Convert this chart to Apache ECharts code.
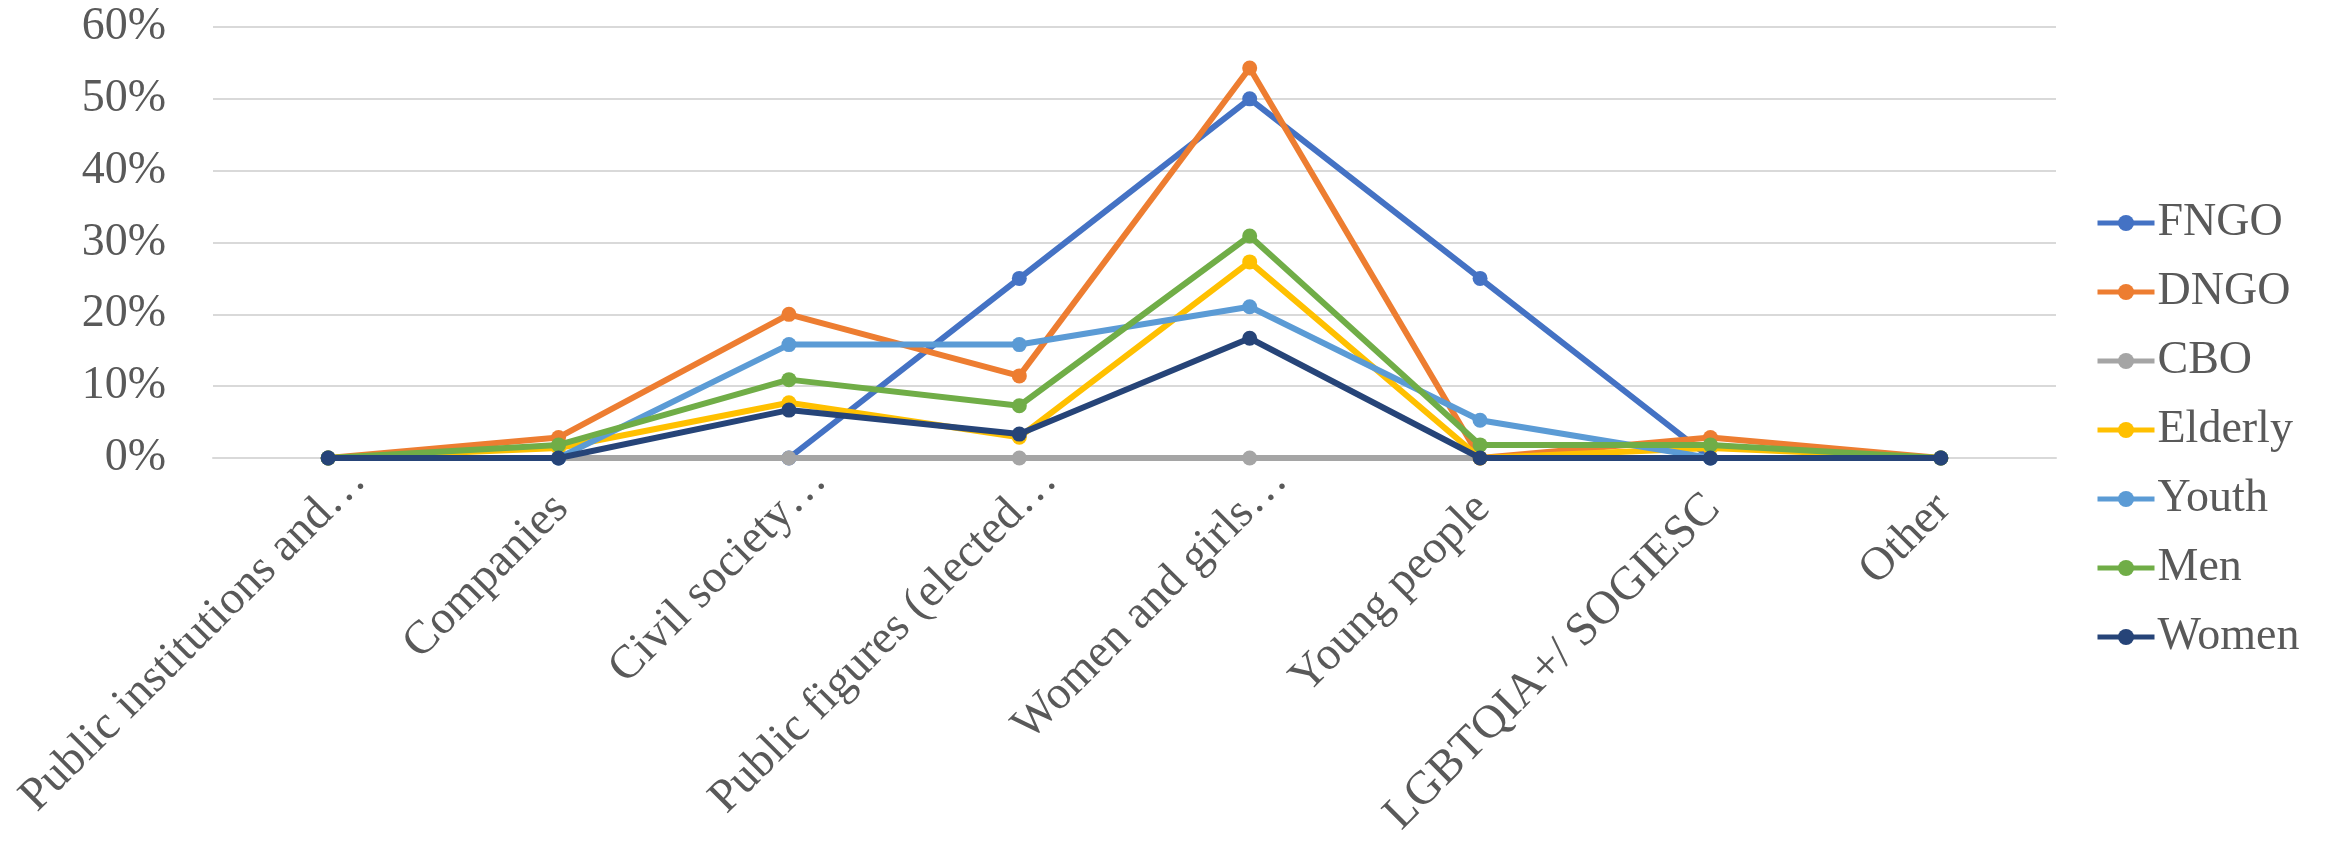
<!DOCTYPE html>
<html>
<head>
<meta charset="utf-8">
<script src="https://cdn.jsdelivr.net/npm/echarts@6/dist/echarts.min.js"></script>
<style>
  html, body { margin: 0; padding: 0; background: #ffffff; }
  #chart { width: 2331px; height: 846px; }
</style>
</head>
<body>
<div id="chart"></div>
<script>
// Target groups (x axis)
const categories = [
  'Public institutions and\u2026',
  'Companies',
  'Civil society\u2026',
  'Public figures (elected\u2026',
  'Women and girls\u2026',
  'Young people',
  'LGBTQIA+/ SOGIESC',
  'Other'
];

// Share of respondents per group, in percent
const fngo    = [0, 0, 0, 25, 50, 25, 0, 0];
const dngo    = [0, 2.86, 20, 11.43, 54.29, 0, 2.86, 0];
const cbo     = [0, 0, 0, 0, 0, 0, 0, 0];
const elderly = [0, 1.4, 7.7, 2.9, 27.3, 0, 1.4, 0];
const youth   = [0, 0, 15.79, 15.79, 21.05, 5.26, 0, 0];
const men     = [0, 1.82, 10.91, 7.27, 30.91, 1.82, 1.82, 0];
const women   = [0, 0, 6.67, 3.33, 16.67, 0, 0, 0];

const seriesNames = ['FNGO', 'DNGO', 'CBO', 'Elderly', 'Youth', 'Men', 'Women'];
const seriesData = [fngo, dngo, cbo, elderly, youth, men, women];
const seriesColors = ['#4472C4', '#ED7D31', '#A5A5A5', '#FFC000', '#5B9BD5', '#70AD47', '#264478'];

const FONT = "'Liberation Serif', 'Times New Roman', serif";
const TEXT_COLOR = '#595959';
const LABEL_SIZE = 46;
const CATEGORY_SIZE = 47;

const chart = echarts.init(document.getElementById('chart'), null, { renderer: 'canvas' });

chart.setOption({
  backgroundColor: '#ffffff',
  animation: false,
  grid: { left: 213, right: 275, top: 27, bottom: 388, containLabel: false, outerBoundsMode: 'none' },
  legend: {
    orient: 'vertical',
    left: 2090,
    top: 195,
    itemWidth: 57,
    itemHeight: 20,
    itemGap: 23,
    data: seriesNames,
    lineStyle: { width: 5 },
    textStyle: { fontFamily: FONT, fontSize: LABEL_SIZE, color: TEXT_COLOR, padding: [0, 0, 0, -2] }
  },
  xAxis: {
    type: 'category',
    data: categories,
    boundaryGap: true,
    axisLine: { show: true, lineStyle: { color: '#D9D9D9', width: 2 } },
    axisTick: { show: false },
    // category names are drawn below as slanted text anchored at their top-right corner
    axisLabel: { show: false }
  },
  yAxis: {
    type: 'value',
    min: 0,
    max: 60,
    interval: 10,
    axisLine: { show: false },
    axisTick: { show: false },
    splitLine: { lineStyle: { color: '#D9D9D9', width: 2 } },
    axisLabel: {
      margin: 47,
      fontFamily: FONT,
      fontSize: LABEL_SIZE,
      color: TEXT_COLOR,
      formatter: '{value}%'
    }
  },
  series: seriesNames.map((name, i) => ({
    name: name,
    type: 'line',
    data: seriesData[i],
    color: seriesColors[i],
    symbol: 'circle',
    symbolSize: 15,
    lineStyle: { width: 6, color: seriesColors[i] },
    itemStyle: { color: seriesColors[i] },
    z: 2 + i
  }))
});

// Slanted category names: top-right corner of each name sits just under its category;
// truncated names (ending in an ellipsis) reach a little further up the slant.
const slant = Math.PI / 4;
const labelGraphics = categories.map((name, i) => {
  const pt = chart.convertToPixel({ xAxisIndex: 0, yAxisIndex: 0 }, [i, 0]);
  const truncated = name.endsWith('\u2026');
  const dx = truncated ? 14 : -14;
  const dy = truncated ? -1 : 27;
  return {
    type: 'text',
    x: pt[0] + dx,
    y: pt[1] + dy,
    rotation: slant,
    silent: true,
    style: {
      text: name,
      font: CATEGORY_SIZE + 'px ' + FONT,
      fill: TEXT_COLOR,
      align: 'right',
      verticalAlign: 'top'
    }
  };
});

chart.setOption({ graphic: labelGraphics });
</script>
</body>
</html>
